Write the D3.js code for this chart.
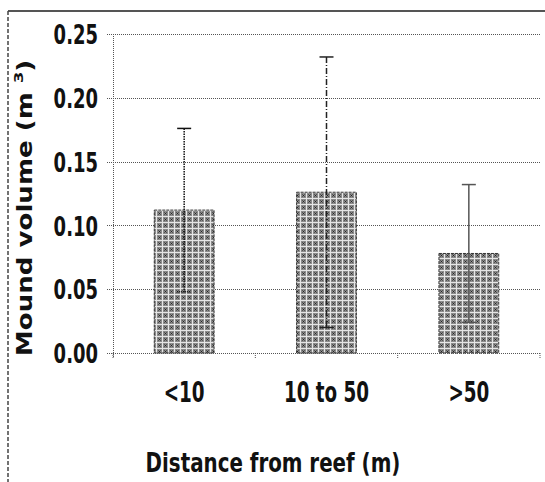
<!DOCTYPE html>
<html>
<head>
<meta charset="utf-8">
<script src="https://cdn.jsdelivr.net/npm/d3@7"></script>
<style>
  body { margin: 0; background: #fff; }
  .tick-label { font-family: "DejaVu Sans Condensed", "DejaVu Sans", sans-serif; font-weight: bold; fill: #111; }
</style>
</head>
<body>
<div id="chart"></div>
<script>
// data
const CATEGORIES = ["<10", "10 to 50", ">50"];
const MEANS = [0.112, 0.126, 0.078];
const SD = [0.064, 0.106, 0.054];
const Y_TICKS = [0, 0.05, 0.10, 0.15, 0.20, 0.25];

// each error bar is drawn in its own line style
const ERR_DASH = ["1.5,1", "6,2,1,2", null];
const ERR_COLOR = ["#111", "#222", "#555"];

const FRAME_WIDTH = 545;
const FRAME_HEIGHT = 482;
const PLOT = {left: 113, right: 540, top: 34, bottom: 353};

const SVG = d3.select("#chart")
  .append("svg")
    .attr("width", FRAME_WIDTH)
    .attr("height", FRAME_HEIGHT);

// grey cross hatch fill of the bars
const pat = SVG.append("defs").append("pattern")
    .attr("id", "hatch")
    .attr("patternUnits", "userSpaceOnUse")
    .attr("width", 6)
    .attr("height", 6);
pat.append("rect").attr("width", 6).attr("height", 6).attr("fill", "#8c8c8c");
pat.append("rect").attr("x", 0).attr("y", 0).attr("width", 6).attr("height", 1).attr("fill", "#e6e6e6");
pat.append("rect").attr("x", 0).attr("y", 0).attr("width", 1).attr("height", 6).attr("fill", "#e6e6e6");
pat.append("rect").attr("x", 3).attr("y", 3).attr("width", 1).attr("height", 1).attr("fill", "#222");
pat.append("rect").attr("x", 2).attr("y", 2).attr("width", 1).attr("height", 1).attr("fill", "#555");
pat.append("rect").attr("x", 4).attr("y", 4).attr("width", 1).attr("height", 1).attr("fill", "#555");
pat.append("rect").attr("x", 4).attr("y", 2).attr("width", 1).attr("height", 1).attr("fill", "#555");
pat.append("rect").attr("x", 2).attr("y", 4).attr("width", 1).attr("height", 1).attr("fill", "#555");

const X_SCALE = d3.scaleBand()
  .domain(CATEGORIES)
  .range([PLOT.left, PLOT.right])
  .paddingInner(0.58)
  .paddingOuter(0.29);

const Y_SCALE = d3.scaleLinear()
  .domain([0, 0.25])
  .range([PLOT.bottom, PLOT.top]);

// outer frame (cropped chart border)
SVG.append("line")
  .attr("x1", 8).attr("x2", FRAME_WIDTH)
  .attr("y1", 11).attr("y2", 11)
  .attr("stroke", "#555").attr("stroke-width", 2);
SVG.append("line")
  .attr("x1", 8).attr("x2", 8)
  .attr("y1", 11).attr("y2", FRAME_HEIGHT)
  .attr("stroke", "#444").attr("stroke-width", 1.5)
  .attr("stroke-dasharray", "4,2");

// gridlines + y axis
const yAxis = SVG.append("g")
  .attr("transform", "translate(" + PLOT.left + ",0)")
  .call(d3.axisLeft(Y_SCALE).tickValues(Y_TICKS).tickFormat(d3.format(".2f"))
          .tickSize(-(PLOT.right - PLOT.left)));
yAxis.select(".domain").remove();
yAxis.selectAll(".tick line")
  .attr("x1", -6)
  .attr("stroke", "#555")
  .attr("stroke-dasharray", "1,1")
  .attr("shape-rendering", "crispEdges");
yAxis.selectAll(".tick text")
  .attr("class", "tick-label")
  .attr("font-size", 20)
  .attr("x", 0)
  .attr("dy", "0.36em")
  .attr("transform", "translate(-15,0) scale(1,1.35)");

// vertical axis line
SVG.append("line")
  .attr("x1", PLOT.left).attr("x2", PLOT.left)
  .attr("y1", Y_SCALE(0.25)).attr("y2", Y_SCALE(0) + 4)
  .attr("stroke", "#555")
  .attr("stroke-dasharray", "1,1")
  .attr("shape-rendering", "crispEdges");

// bars
SVG.append("g").selectAll("rect")
  .data(CATEGORIES)
  .enter()
  .append("rect")
    .attr("x", (d) => X_SCALE(d))
    .attr("y", (d, i) => Y_SCALE(MEANS[i]))
    .attr("width", X_SCALE.bandwidth())
    .attr("height", (d, i) => Y_SCALE(0) - Y_SCALE(MEANS[i]))
    .attr("fill", "url(#hatch)")
    .attr("stroke", "#333")
    .attr("stroke-width", 1)
    .attr("stroke-dasharray", "3,1");

// error bars
const err = SVG.append("g").selectAll("g")
  .data(CATEGORIES)
  .enter()
  .append("g");
err.append("line")
  .attr("x1", (d) => X_SCALE(d) + X_SCALE.bandwidth() / 2)
  .attr("x2", (d) => X_SCALE(d) + X_SCALE.bandwidth() / 2)
  .attr("y1", (d, i) => Y_SCALE(MEANS[i] + SD[i]))
  .attr("y2", (d, i) => Y_SCALE(MEANS[i] - SD[i]))
  .attr("stroke", (d, i) => ERR_COLOR[i])
  .attr("stroke-width", 1.5)
  .attr("stroke-dasharray", (d, i) => ERR_DASH[i]);
[1, -1].forEach((s) => {
  err.append("line")
    .attr("x1", (d) => X_SCALE(d) + X_SCALE.bandwidth() / 2 - 7)
    .attr("x2", (d) => X_SCALE(d) + X_SCALE.bandwidth() / 2 + 7)
    .attr("y1", (d, i) => Y_SCALE(MEANS[i] + s * SD[i]))
    .attr("y2", (d, i) => Y_SCALE(MEANS[i] + s * SD[i]))
    .attr("stroke", (d, i) => ERR_COLOR[i])
    .attr("stroke-width", 1.5)
    .attr("stroke-dasharray", (d, i) => i == 0 && s < 0 ? "1,1" : null);
});

// x axis
const xAxis = SVG.append("g")
  .attr("transform", "translate(0," + PLOT.bottom + ")");
xAxis.append("line")
  .attr("x1", PLOT.left - 6).attr("x2", PLOT.right)
  .attr("stroke", "#555")
  .attr("stroke-dasharray", "1,1")
  .attr("shape-rendering", "crispEdges");
xAxis.selectAll("line.sep")
  .data(d3.range(CATEGORIES.length + 1))
  .enter()
  .append("line")
    .attr("class", "sep")
    .attr("x1", (i) => PLOT.left + i * X_SCALE.step())
    .attr("x2", (i) => PLOT.left + i * X_SCALE.step())
    .attr("y1", 0).attr("y2", 5)
    .attr("stroke", "#555")
    .attr("stroke-dasharray", "1,1");
xAxis.selectAll("text")
  .data(CATEGORIES)
  .enter()
  .append("text")
    .attr("class", "tick-label")
    .attr("text-anchor", "middle")
    .attr("font-size", 20)
    .attr("transform", (d) => "translate(" + (X_SCALE(d) + X_SCALE.bandwidth() / 2) + ",49) scale(1.02,1.4)")
    .text((d) => d);

// axis titles
SVG.append("text")
  .attr("class", "tick-label")
  .attr("font-size", 21)
  .attr("text-anchor", "middle")
  .attr("transform", "translate(273,472) scale(1.05,1.25)")
  .style("font-weight", "600")
  .text("Distance from reef (m)");

const yt = SVG.append("text")
  .attr("class", "tick-label")
  .attr("font-size", 21)
  .attr("text-anchor", "middle")
  .attr("transform", "translate(32,208) rotate(-90) scale(1.38,1)");
yt.append("tspan").text("Mound volume (m ");
yt.append("tspan").attr("font-size", 13).attr("dy", -9).text("3");
yt.append("tspan").attr("dy", 9).text(")");
</script>
</body>
</html>
